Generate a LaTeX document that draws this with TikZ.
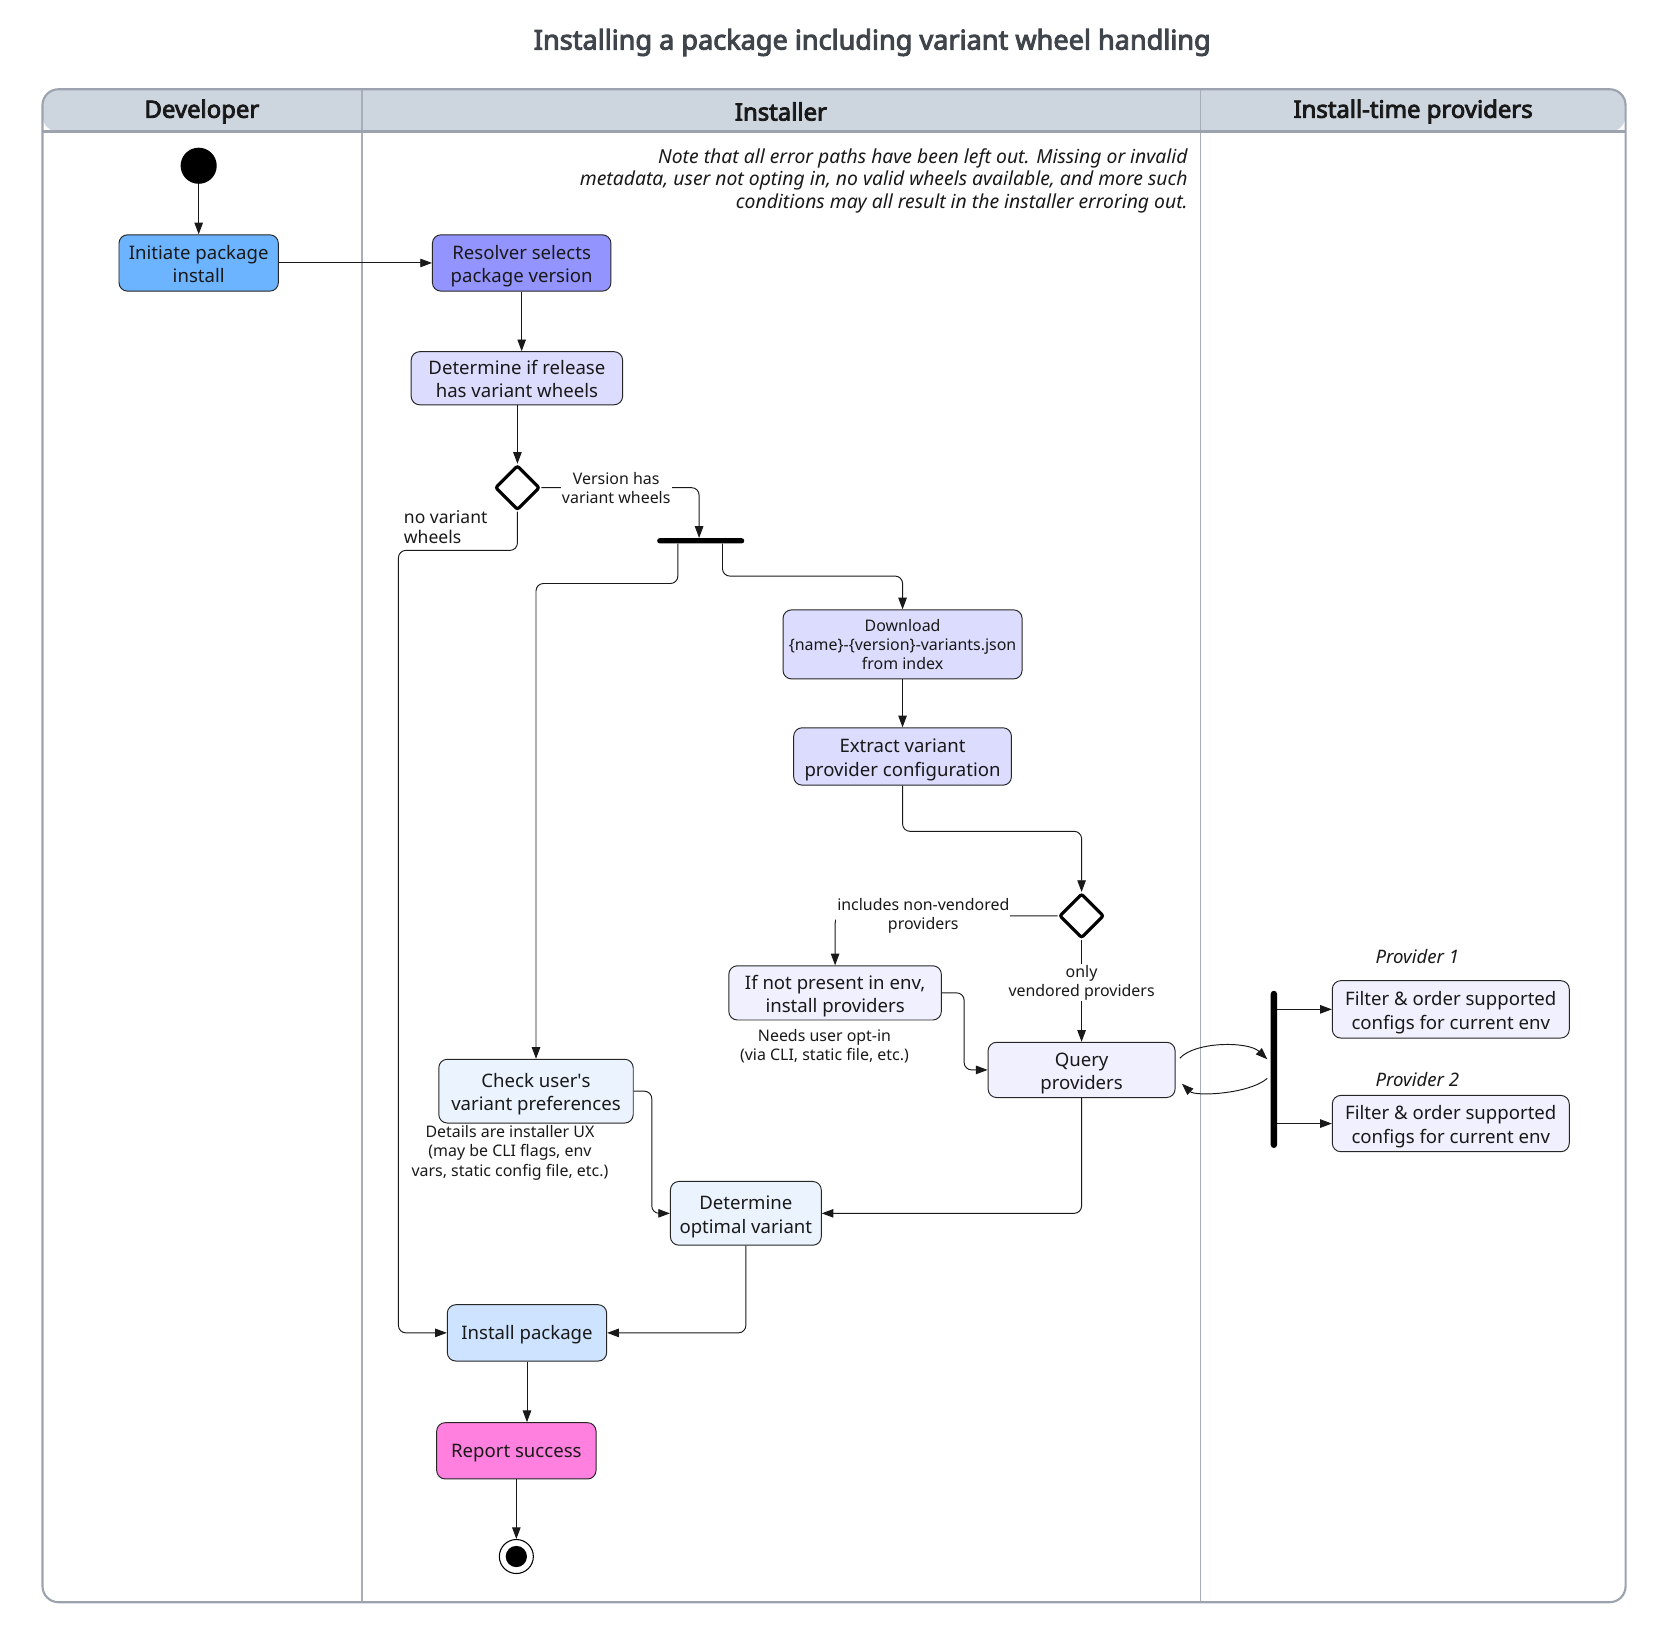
\documentclass[tikz,border=0pt]{standalone}
\usepackage{fontspec}
\setmainfont{Noto Sans}[AutoFakeBold=3.5]
\usetikzlibrary{arrows.meta,shapes.geometric,calc}
\definecolor{frame}{HTML}{9CA3AF}
\definecolor{headfill}{HTML}{CDD5DF}
\definecolor{divider}{HTML}{A8AEB6}
\definecolor{titlec}{HTML}{40454C}
\definecolor{cInit}{HTML}{6CB4FF}
\definecolor{cRes}{HTML}{9494FF}
\definecolor{cLav}{HTML}{DCDCFF}
\definecolor{cPale}{HTML}{F0F0FF}
\definecolor{cBlue}{HTML}{EBF3FF}
\definecolor{cInst}{HTML}{CDE3FF}
\definecolor{cRep}{HTML}{FF80DE}
\tikzset{
  box/.style={draw=black!85, line width=0.9pt, rounded corners=8pt, align=center, inner sep=0pt,
    font=\fontsize{17.5}{22}\selectfont, text=black!90},
  boxone/.style={box, text height=13pt, text depth=0pt},
  boxtwo/.style={box, text height=37pt, text depth=0pt},
  smallbox/.style={box, font=\fontsize{15}{18}\selectfont},
  dia/.style={shape=diamond, draw=black, line width=3pt, fill=white, minimum width=42pt, minimum height=42pt, inner sep=0pt, rounded corners=2pt},
  flow/.style={draw=black!90, line width=0.9pt, rounded corners=7pt, -{Triangle[length=11pt,width=8pt]}},
  lbl/.style={font=\fontsize{15}{18}\selectfont, align=center, text=black!90, inner sep=1pt},
  hdr/.style={font=\fontsize{22.5}{24}\selectfont\bfseries, text=black!90},
}
\begin{document}
\begin{tikzpicture}[x=1pt,y=-1pt]
\useasboundingbox (0,0) rectangle (1569,1543);
% title
\node[font=\fontsize{25.5}{28}\selectfont\bfseries, text=titlec] (title) at (821,40) {Installing a package including variant wheel handling};
% frame
\fill[headfill, rounded corners=15pt] (40,124) -- (40,84) -- (1530,84) -- (1530,124) -- cycle;
\draw[divider, line width=1.6pt] (341,84) -- (341,1508);
\draw[divider, line width=1.6pt] (1130,84) -- (1130,1508);
\draw[frame, line width=2.5pt] (40,124) -- (1530,124);
\draw[frame, line width=2pt, rounded corners=15pt] (40,84) rectangle (1530,1508);
\node[hdr] (h1) at (190,105) {Developer};
\node[hdr] (h2) at (735,105) {Installer};
\node[hdr] (h3) at (1330,105) {Install-time providers};
% note
\node[anchor=east, align=right, font=\fontsize{18.2}{21}\selectfont\itshape, text=black!90, inner sep=0pt] (note) at (1118,170)
  {Note that all error paths have been left out. Missing or invalid\\metadata, user not opting in, no valid wheels available, and more such\\conditions may all result in the installer erroring out.};
% nodes
\node[circle, fill=black, minimum size=34pt, inner sep=0pt] (st) at (187,156) {};
\node[boxtwo, fill=cInit, minimum width=150pt, minimum height=53pt] (init) at (187,247.5) {Initiate package\\install};
\node[boxtwo, fill=cRes, minimum width=168pt, minimum height=53pt] (res) at (491,247.5) {Resolver selects\\package version};
\node[boxtwo, fill=cLav, minimum width=199pt, minimum height=50pt] (dr) at (486.5,356) {Determine if release\\has variant wheels};
\node[dia] (d1) at (487,459) {};
\node[fill=black, minimum width=82pt, minimum height=5pt, inner sep=0pt, rounded corners=2.5pt] (b1) at (659.5,509) {};
\node[smallbox, fill=cLav, minimum width=225pt, minimum height=65pt] (dl) at (849.5,606.5) {Download\\\{name\}-\{version\}-variants.json\\from index};
\node[boxtwo, fill=cLav, minimum width=205pt, minimum height=54pt] (ex) at (849.5,712) {Extract variant\\provider configuration};
\node[dia] (d2) at (1018,862) {};
\node[boxtwo, fill=cPale, minimum width=200pt, minimum height=51pt] (ifn) at (786,934.5) {If not present in env,\\install providers};
\node[boxtwo, fill=cPale, minimum width=176pt, minimum height=52pt] (qr) at (1018,1007) {Query\\providers};
\node[fill=black, minimum width=6pt, minimum height=148pt, inner sep=0pt, rounded corners=3pt] (b2) at (1199,1006.5) {};
\node[boxtwo, fill=cPale, minimum width=223pt, minimum height=54pt] (f1) at (1365.5,950) {Filter \& order supported\\configs for current env};
\node[boxtwo, fill=cPale, minimum width=223pt, minimum height=53pt] (f2) at (1365.5,1057.5) {Filter \& order supported\\configs for current env};
\node[font=\fontsize{17.5}{21}\selectfont\itshape, text=black!90] (p1) at (1334,900) {Provider 1};
\node[font=\fontsize{17.5}{21}\selectfont\itshape, text=black!90] (p2) at (1334,1016) {Provider 2};
\node[boxtwo, fill=cBlue, minimum width=183pt, minimum height=60pt] (chk) at (504.5,1027) {Check user\textquotesingle s\\variant preferences};
\node[boxtwo, fill=cBlue, minimum width=142pt, minimum height=60pt] (opt) at (702,1142) {Determine\\optimal variant};
\node[boxone, fill=cInst, minimum width=150pt, minimum height=53pt] (inst) at (496,1254.5) {Install package};
\node[boxone, fill=cRep, minimum width=150pt, minimum height=53pt] (rep) at (486,1365.5) {Report success};
\node[circle, draw=black, line width=1pt, fill=white, minimum size=32pt, inner sep=0pt] (en) at (486,1465) {};
\node[circle, fill=black, minimum size=20pt, inner sep=0pt] (enin) at (en) {};
% annotations
\node[lbl] (n1) at (776,985) {Needs user opt-in\\(via CLI, static file, etc.)};
\node[lbl] (n2) at (480,1085) {Details are installer UX\\(may be CLI flags, env\\vars, static config file, etc.)};
% edges
\draw[flow] (st) -- (init);
\draw[flow] (init) -- (res);
\draw[flow] (res.south) -- (res.south |- dr.north);
\draw[flow] (d1 |- dr.south) -- (d1.north);
\draw[flow] (d1.east) -| ([xshift=-1.5pt]b1.north);
\node[lbl, fill=white] (l1) at (580,459) {Version has\\variant wheels};
\draw[flow] (d1.south) |- (375,518) |- (inst.west);
\node[font=\fontsize{16.5}{19}\selectfont, align=left, anchor=west, text=black!90, inner sep=0pt] (l2) at (380,496) {no variant\\wheels};
\draw[flow] ([xshift=-21.5pt]b1.south) -- ++(0,37.5) -| (chk.north);
\draw[flow] ([xshift=20.5pt]b1.south) -- ++(0,30.5) -| (dl.north);
\draw[flow] (dl) -- (ex);
\draw[flow] (ex.south) -- ++(0,43) -| (d2.north);
\draw[flow] (d2.west) -| (ifn.north);
\node[lbl, fill=white] (l3) at (869,862) {includes non-vendored\\providers};
\draw[flow] (d2.south) -- (qr.north);
\node[lbl, fill=white] (l4) at (1018,925) {only\\vendored providers};
\draw[flow] (ifn.east) -- ++(21,0) |- (qr.west);
\draw[flow] (qr.south) |- (opt.east);
\draw[flow] (chk.east) -- ++(17,0) |- (opt.west);
\draw[flow] (opt.south) |- (inst.east);
\draw[flow] (inst.south) -- (inst.south |- rep.north);
\draw[flow] (rep.south) -- (rep.south |- en.north);
\draw[flow] ([xshift=4pt,yshift=11pt]qr.east) .. controls (1125,980) and (1175,980) .. ([xshift=-3pt,yshift=9.5pt]b2.west);
\draw[flow] ([xshift=-3pt,yshift=-8.5pt]b2.west) .. controls (1175,1030) and (1125,1032) .. ([xshift=6pt,yshift=-13pt]qr.east);
\draw[flow] (b2.east |- f1.west) -- (f1.west);
\draw[flow] (b2.east |- f2.west) -- (f2.west);
\end{tikzpicture}
\end{document}
